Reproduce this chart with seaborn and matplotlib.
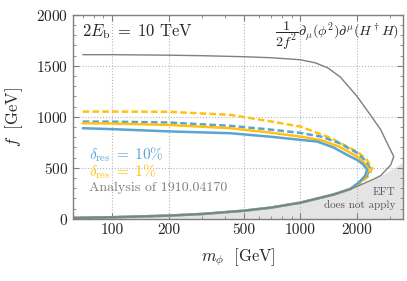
import matplotlib
matplotlib.use("Agg")
import matplotlib.pyplot as plt
import pandas as pd
import seaborn as sns
from matplotlib.ticker import MultipleLocator, FixedLocator, NullFormatter, LogLocator

sns.set_style("ticks")
plt.rcParams["font.family"] = ["cmr10", "DejaVu Serif"]
plt.rcParams["mathtext.fontset"] = "cm"
plt.rcParams["axes.formatter.use_mathtext"] = True

blue = "#5ba3d3"
gold = "#ffc20e"
grey = "#7f7f7f"

# EFT validity boundary (f vs m_phi)
eft_m = [62, 100, 200, 300, 500, 700, 1000, 1500, 1845, 2000, 2500, 2670, 3000, 3500]
eft_f = [10, 16, 32, 48, 80, 111, 159, 239, 294, 318, 398, 425, 477, 557]

# Analysis of 1910.04170 (upper branch down to where it meets the boundary)
ana_m = [70, 100, 200, 300, 500, 700, 1000, 1200, 1400, 1630, 2000, 2350, 2670, 2830, 3000, 3130, 3015, 2670]
ana_f = [1610, 1610, 1605, 1600, 1590, 1580, 1560, 1530, 1480, 1390, 1200, 1020, 873, 775, 680, 611, 529, 425]

# delta_res = 10%, solid / dashed
b_sol_m = [70, 100, 200, 425, 700, 1000, 1230, 1500, 1770, 2000, 2150, 2260, 2200, 2050, 1845]
b_sol_f = [889, 880, 858, 840, 805, 775, 758, 700, 627, 578, 535, 480, 420, 360, 294]
b_das_m = [70, 100, 200, 425, 700, 1000, 1300, 1600, 2000, 2200, 2340, 2250, 2050, 1845]
b_das_f = [954, 953, 945, 912, 875, 843, 805, 745, 647, 575, 497, 420, 355, 294]

# delta_res = 1%, solid / dashed
y_sol_m = [70, 100, 200, 425, 700, 1000, 1300, 1600, 2000, 2180, 2300, 2220, 2050, 1845]
y_sol_f = [938, 935, 921, 889, 845, 807, 770, 710, 611, 550, 490, 420, 355, 294]
y_das_m = [70, 100, 200, 425, 700, 1000, 1445, 1770, 2000, 2250, 2400, 2300, 2080, 1845]
y_das_f = [1052, 1052, 1050, 1020, 955, 905, 794, 709, 660, 580, 497, 420, 350, 294]


def closed(m_up, f_up):
    last = m_up[-1]
    low = [(m, f) for m, f in zip(eft_m, eft_f) if m < last][::-1]
    return pd.DataFrame({"m": m_up + [p[0] for p in low],
                         "f": f_up + [p[1] for p in low]})


fig, ax = plt.subplots(figsize=(4.07, 2.81), dpi=100)
fig.subplots_adjust(left=0.179, right=0.990, bottom=0.221, top=0.947)

ax.fill_between(eft_m, 0, eft_f, color="#e4e4e4", lw=0, zorder=0)

dash = (0, (2.6, 1.3))
sns.lineplot(data=closed(y_das_m, y_das_f), x="m", y="f", sort=False, estimator=None,
             color=gold, lw=1.8, linestyle=dash, ax=ax)
sns.lineplot(data=closed(b_das_m, b_das_f), x="m", y="f", sort=False, estimator=None,
             color=blue, lw=1.8, linestyle=dash, ax=ax)
sns.lineplot(data=closed(y_sol_m, y_sol_f), x="m", y="f", sort=False, estimator=None,
             color=gold, lw=1.8, ax=ax)
sns.lineplot(data=closed(b_sol_m, b_sol_f), x="m", y="f", sort=False, estimator=None,
             color=blue, lw=1.8, ax=ax)
sns.lineplot(data=closed(ana_m, ana_f), x="m", y="f", sort=False, estimator=None,
             color=grey, lw=1.0, ax=ax)

ax.set_xscale("log")
ax.set_xlim(62, 3500)
ax.set_ylim(0, 2000)
ax.xaxis.set_major_locator(FixedLocator([100, 200, 500, 1000, 2000]))
ax.xaxis.set_major_formatter(matplotlib.ticker.FixedFormatter(["100", "200", "500", "1000", "2000"]))
ax.xaxis.set_minor_locator(LogLocator(base=10, subs=range(1, 10)))
ax.xaxis.set_minor_formatter(NullFormatter())
ax.yaxis.set_major_locator(MultipleLocator(500))
ax.yaxis.set_minor_locator(MultipleLocator(100))

ax.grid(True, which="major", ls=":", color="#b5b5b5", lw=0.8)
ax.tick_params(which="both", direction="in", top=True, right=True, color=grey, labelsize=11)
ax.tick_params(which="major", length=4)
ax.tick_params(which="minor", length=2)
for s in ax.spines.values():
    s.set_color(grey)
    s.set_linewidth(1.0)

ax.set_xlabel(r"$m_\phi\ \ $[GeV]", fontsize=12, labelpad=6)
ax.set_ylabel(r"$f\ \ $[GeV]", fontsize=12, labelpad=8)

ax.text(0.027, 0.917, r"$2E_{\rm b}\;=\;10$ TeV", transform=ax.transAxes, fontsize=12,
        va="center", ha="left")
ax.text(0.988, 0.895, r"$\dfrac{1}{2f^2}\partial_\mu(\phi^2)\partial^\mu(H^\dagger H)$",
        transform=ax.transAxes, fontsize=10.2, va="center", ha="right")
ax.text(0.05, 0.314, r"$\delta_{\rm res}\;=\;10\%$", transform=ax.transAxes, fontsize=11,
        color=blue, va="center")
ax.text(0.05, 0.232, r"$\delta_{\rm res}\;=\;1\%$", transform=ax.transAxes, fontsize=11,
        color=gold, va="center")
ax.text(0.05, 0.152, "Analysis of 1910.04170", transform=ax.transAxes, fontsize=10,
        color=grey, va="center")
ax.text(0.976, 0.132, "EFT", transform=ax.transAxes, fontsize=8, color="#555555",
        va="center", ha="right")
ax.text(0.976, 0.069, "does not apply", transform=ax.transAxes, fontsize=8, color="#555555",
        va="center", ha="right")

fig.savefig("out.png", dpi=100)
